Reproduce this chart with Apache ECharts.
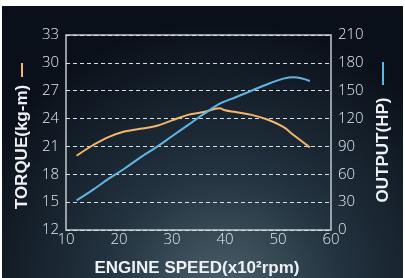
<!DOCTYPE html>
<html>
<head>
<meta charset="utf-8">
<script src="https://cdn.jsdelivr.net/npm/echarts@6/dist/echarts.min.js"></script>
<style>
  html, body { margin: 0; padding: 0; background: #ffffff; }
  #chart { position: absolute; left: 2px; top: 6px; width: 401px; height: 272px; }
</style>
</head>
<body>
<div id="chart"></div>
<script>
// engine speed (x100 rpm)
const rpm = [12, 15, 18, 21, 24, 27, 30, 33, 36, 39, 40, 42, 45, 48, 51, 53, 56];
// torque, kg-m
const torque = [20.0, 21.1, 22.0, 22.6, 22.9, 23.2, 23.8, 24.4, 24.7, 25.1, 24.9, 24.7, 24.4, 23.9, 23.1, 22.2, 20.9];
// output, HP
const output = [32, 43, 55, 66, 78, 89, 101, 113, 125, 136, 138.5, 143, 150, 157, 163, 164.5, 160.5];

const torqueColor = '#f4b56c';
const outputColor = '#62b4e4';
const labelFont = { color: '#e3e7ea', fontSize: 15, fontFamily: 'Open Sans', fontWeight: 300 };
const titleFont = 'bold 17px "Liberation Sans", Arial, sans-serif';

function pairs (xs, ys) {
    return xs.map((x, i) => [x, ys[i]]);
}

const chart = echarts.init(document.getElementById('chart'));

chart.setOption({
    animation: false,
    backgroundColor: {
        type: 'radial', x: 0.55, y: 1.05, r: 1.0,
        colorStops: [
            { offset: 0, color: '#4b606b' },
            { offset: 0.45, color: '#22323f' },
            { offset: 1, color: '#0a1019' }
        ]
    },
    grid: {
        left: 64, right: 72, top: 29, bottom: 48,
        show: true, borderColor: '#c4c8cc', borderWidth: 1.5,
        backgroundColor: 'transparent'
    },
    xAxis: {
        type: 'value', min: 10, max: 60, interval: 10,
        axisLine: { show: false },
        axisTick: { show: false },
        splitLine: { show: false },
        axisLabel: Object.assign({ margin: 2 }, labelFont)
    },
    yAxis: [
        {
            type: 'value', min: 12, max: 33, interval: 3,
            axisLine: { show: false },
            axisTick: { show: false },
            axisLabel: Object.assign({ margin: 7 }, labelFont),
            splitLine: {
                lineStyle: { color: '#d8dde0', width: 1.2, type: [4, 3] }
            }
        },
        {
            type: 'value', min: 0, max: 210, interval: 30,
            position: 'right',
            axisLine: { show: false },
            axisTick: { show: false },
            axisLabel: Object.assign({ margin: 7 }, labelFont),
            splitLine: { show: false }
        }
    ],
    series: [
        {
            name: 'TORQUE', type: 'line', yAxisIndex: 0,
            data: pairs(rpm, torque), smooth: 0.4, showSymbol: false,
            lineStyle: { color: torqueColor, width: 2 }
        },
        {
            name: 'OUTPUT', type: 'line', yAxisIndex: 1,
            data: pairs(rpm, output), smooth: 0.4, showSymbol: false,
            lineStyle: { color: outputColor, width: 2 }
        }
    ],
    graphic: [
        {
            type: 'text', x: 195, y: 262,
            style: {
                text: 'ENGINE SPEED(x10²rpm)', align: 'center', verticalAlign: 'middle',
                fill: '#eef1f3', font: titleFont
            }
        },
        {
            type: 'text', x: 20, y: 141, rotation: Math.PI / 2,
            style: {
                text: 'TORQUE(kg-m)', align: 'center', verticalAlign: 'middle',
                fill: '#eef1f3', font: titleFont
            }
        },
        {
            type: 'line', shape: { x1: 20, y1: 57, x2: 20, y2: 71 },
            style: { stroke: torqueColor, lineWidth: 2 }
        },
        {
            type: 'text', x: 381, y: 144, rotation: Math.PI / 2,
            style: {
                text: 'OUTPUT(HP)', align: 'center', verticalAlign: 'middle',
                fill: '#eef1f3', font: titleFont
            }
        },
        {
            type: 'line', shape: { x1: 381, y1: 56, x2: 381, y2: 79 },
            style: { stroke: outputColor, lineWidth: 2 }
        }
    ]
});
</script>
</body>
</html>
